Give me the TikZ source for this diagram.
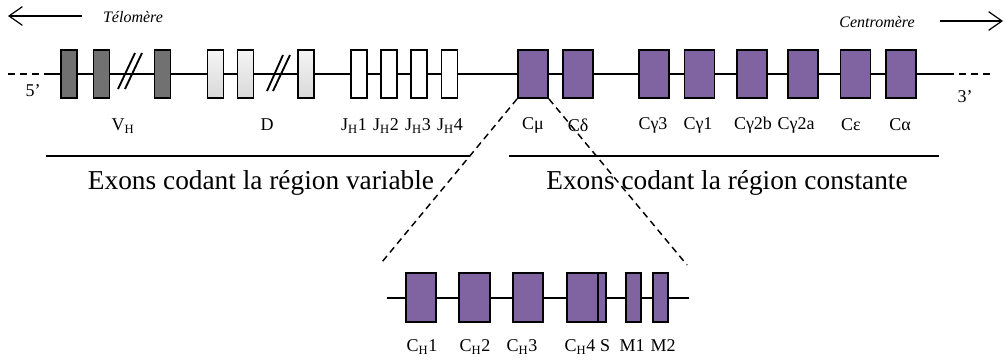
\documentclass[tikz,border=0pt]{standalone}
\usepackage{fontspec}
\setmainfont{Liberation Serif}
\usetikzlibrary{arrows.meta}
\definecolor{exonpurple}{HTML}{8064A2}
\definecolor{darkexon}{HTML}{717171}
\begin{document}
\begin{tikzpicture}[x=0.75pt,y=-0.75pt,
  ln/.style={line width=1.4pt},
  exon/.style={draw=black,line width=1.4pt,rectangle,inner sep=0pt,minimum height=36pt},
  vexon/.style={exon,minimum width=12pt,fill=darkexon},
  dexon/.style={exon,minimum width=12pt,top color=gray!8,bottom color=gray!30},
  jexon/.style={exon,minimum width=12pt,fill=white},
  cexon/.style={exon,minimum width=22.5pt,fill=exonpurple},
  sexon/.style={draw=black,line width=1.4pt,rectangle,inner sep=0pt,minimum height=36.75pt,fill=exonpurple},
  lbl/.style={inner sep=0pt,font=\fontsize{13.5pt}{15pt}\selectfont},
  big/.style={inner sep=0pt,font=\fontsize{20.5pt}{24pt}\selectfont},
  ital/.style={inner sep=0pt,font=\fontsize{12pt}{14pt}\selectfont\itshape},
  dsh/.style={line width=1.1pt,dash pattern=on 5pt off 3.5pt},
  arr/.style={line width=0.9pt,-{Straight Barb[length=10pt,width=14pt,line width=0.9pt]}}
]
\useasboundingbox (0,0) rectangle (1005,360);

% arrows telomere / centromere
\coordinate (ta) at (82,16);
\coordinate (tb) at (8,16);
\draw[arr] (ta) -- (tb);
\node[ital] (tel) at (133,17) {Télomère};
\coordinate (ca) at (940,21);
\coordinate (cb) at (1003,21);
\draw[arr] (ca) -- (cb);
\node[ital] (cen) at (877,22) {Centromère};

% main line
\coordinate (l0) at (8,74);
\coordinate (l1) at (48,74);
\coordinate (l2) at (947,74);
\coordinate (l3) at (992,74);
\draw[ln,dash pattern=on 5pt off 4pt] (l0) -- (l1);
\draw[ln] (l1) -- (l2);
\draw[ln,dash pattern=on 5pt off 4pt] (l2) -- (l3);
\node[lbl] (p5) at (33,91) {5’};
\node[lbl] (p3) at (965,97) {3’};

% hatches
\coordinate (h1a) at (118,89); \coordinate (h1b) at (135,53);
\coordinate (h2a) at (125,89); \coordinate (h2b) at (142,53);
\draw[ln] (h1a) -- (h1b);
\draw[ln] (h2a) -- (h2b);
\coordinate (h3a) at (267,91); \coordinate (h3b) at (283,55);
\coordinate (h4a) at (273,91); \coordinate (h4b) at (290,55);
\draw[ln] (h3a) -- (h3b);
\draw[ln] (h4a) -- (h4b);

% V exons
\node[vexon] (v1) at (69,74) {};
\node[vexon] (v2) at (101.5,74) {};
\node[vexon] (v3) at (162.5,74) {};
% D exons
\node[dexon] (d1) at (215.5,74) {};
\node[dexon] (d2) at (245.5,74) {};
\node[dexon] (d3) at (306,74) {};
% J exons
\node[jexon] (j1) at (359,74) {};
\node[jexon] (j2) at (389,74) {};
\node[jexon] (j3) at (419,74) {};
\node[jexon] (j4) at (449.5,74) {};
% C exons
\node[cexon] (cmu) at (533,74) {};
\node[cexon] (cdelta) at (578,74) {};
\node[cexon] (cg3) at (654,74) {};
\node[cexon] (cg1) at (699.5,74) {};
\node[cexon] (cg2b) at (752,74) {};
\node[cexon] (cg2a) at (803,74) {};
\node[cexon] (ceps) at (855.5,74) {};
\node[cexon] (calpha) at (901,74) {};

% labels
\node[lbl] (lv) at (123,126) {V\textsubscript{H}};
\node[lbl] (ld) at (267,125) {D};
\node[lbl] (lj1) at (354,126) {J\textsubscript{H}1};
\node[lbl] (lj2) at (386,126) {J\textsubscript{H}2};
\node[lbl] (lj3) at (418,126) {J\textsubscript{H}3};
\node[lbl] (lj4) at (450,126) {J\textsubscript{H}4};
\node[lbl] (lmu) at (533,125) {Cμ};
\node[lbl] (ldelta) at (578,125) {Cδ};
\node[lbl] (lg3) at (653,125) {Cγ3};
\node[lbl] (lg1) at (698,125) {Cγ1};
\node[lbl] (lg2b) at (753,125) {Cγ2b};
\node[lbl] (lg2a) at (796,125) {Cγ2a};
\node[lbl] (leps) at (851,125) {Cε};
\node[lbl] (lalpha) at (900,125) {Cα};

% region lines
\coordinate (r1a) at (46,156); \coordinate (r1b) at (470,156);
\coordinate (r2a) at (509,156); \coordinate (r2b) at (939,156);
\draw[ln] (r1a) -- (r1b);
\draw[ln] (r2a) -- (r2b);
\node[big] (tvar) at (261,183) {Exons codant la région variable};
\node[big] (tcst) at (727,183) {Exons codant la région constante};

% zoom dashed lines
\coordinate (zl) at (382,262);
\coordinate (zr) at (687,265);
\draw[dsh] (cmu.south west) -- (zl);
\draw[dsh] (cmu.south east) -- (zr);

% bottom gene
\coordinate (b0) at (387,298);
\coordinate (b1) at (689,298);
\draw[ln] (b0) -- (b1);
\node[sexon,minimum width=22.5pt] (ch1) at (421,297.5) {};
\node[sexon,minimum width=23.25pt] (ch2) at (474.5,297.5) {};
\node[sexon,minimum width=22.5pt] (ch3) at (528,297.5) {};
\node[sexon,minimum width=23.25pt] (ch4) at (582.5,297.5) {};
\node[sexon,minimum width=6pt] (s) at (602,297.5) {};
\node[sexon,minimum width=11.25pt] (m1) at (633.5,297.5) {};
\node[sexon,minimum width=11.25pt] (m2) at (660.5,297.5) {};

\node[lbl] (lch1) at (422,347) {C\textsubscript{H}1};
\node[lbl] (lch2) at (475,347) {C\textsubscript{H}2};
\node[lbl] (lch3) at (522,347) {C\textsubscript{H}3};
\node[lbl] (lch4) at (580,347) {C\textsubscript{H}4};
\node[lbl] (ls) at (605,346) {S};
\node[lbl] (lm1) at (632,346) {M1};
\node[lbl] (lm2) at (663,346) {M2};
\end{tikzpicture}
\end{document}
